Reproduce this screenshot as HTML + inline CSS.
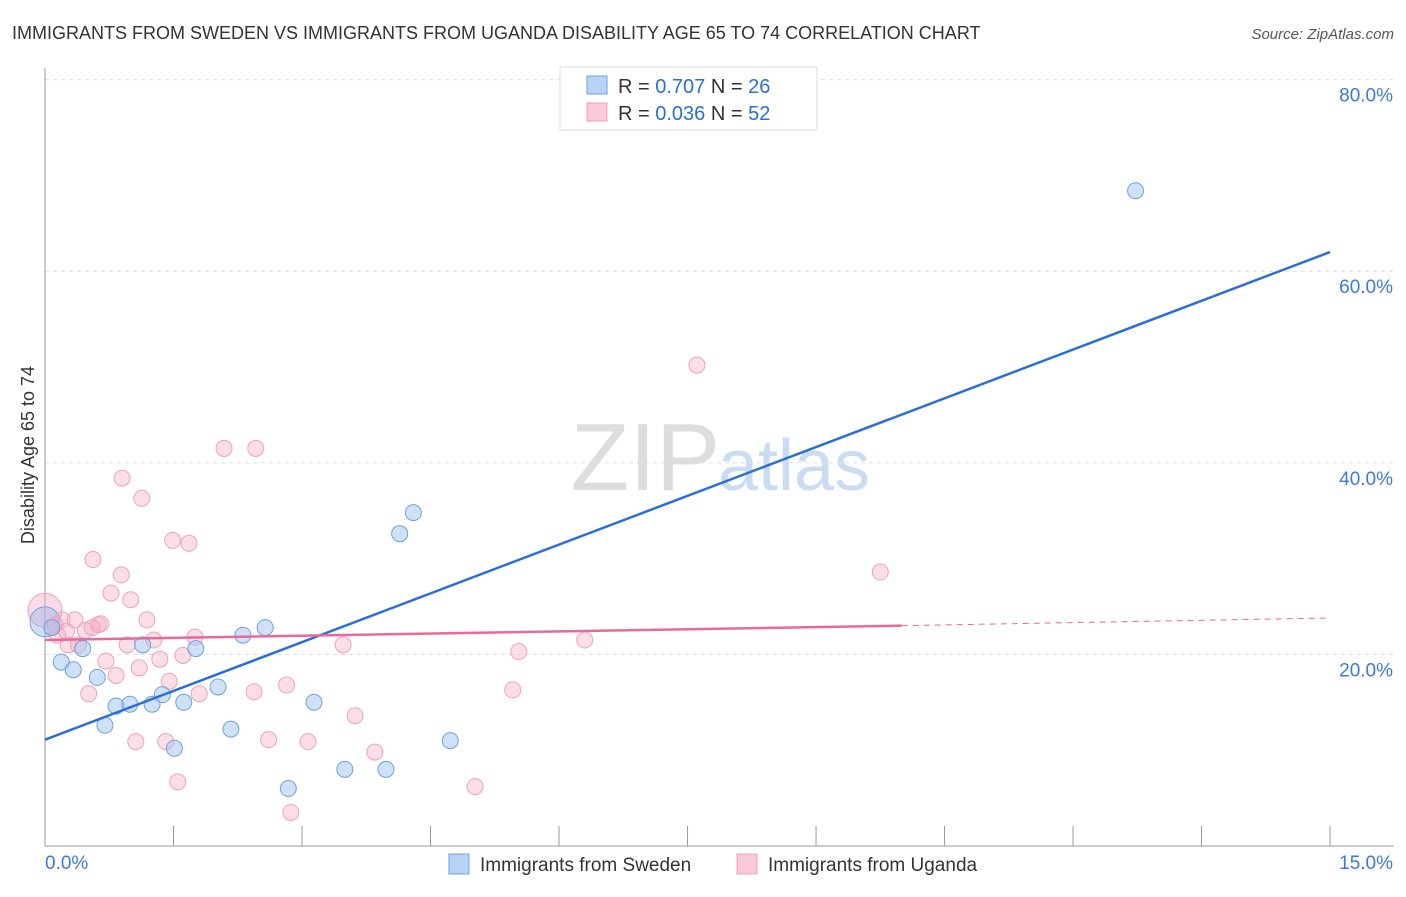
<!DOCTYPE html>
<html><head><meta charset="utf-8"><style>
body{margin:0;background:#fff;font-family:"Liberation Sans",sans-serif;}
svg text{font-family:"Liberation Sans",sans-serif;}
</style></head><body>
<svg id="chart" width="1406" height="892">
<text x="12" y="39" font-size="18" fill="#333">IMMIGRANTS FROM SWEDEN VS IMMIGRANTS FROM UGANDA DISABILITY AGE 65 TO 74 CORRELATION CHART</text>
<text x="1394" y="39" font-size="15" fill="#555" font-style="italic" text-anchor="end">Source: ZipAtlas.com</text>
<text x="720" y="490" font-size="96" fill="#ddd" text-anchor="end" font-family="Liberation Serif">ZIP</text>
<text x="718" y="490" font-size="72" fill="#c9dcf2">atlas</text>
<g id="grid"></g><g id="axes"></g><g id="pts"></g><g id="lines"></g>
<text transform="translate(34,455) rotate(-90)" font-size="18" fill="#333" text-anchor="middle">Disability Age 65 to 74</text>
<g>
<rect x="560" y="67" width="257" height="63" fill="#fff" stroke="#ddd"/>
<rect x="587" y="76" width="20" height="18" fill="#b8d3f5" stroke="#6fa0e0"/>
<rect x="587" y="103" width="20" height="18" fill="#fbc9da" stroke="#f0a0bc"/>
<text x="618" y="93" font-size="20" fill="#333">R = <tspan fill="#2a6fd6">0.707</tspan>   N = <tspan fill="#2a6fd6">26</tspan></text>
<text x="618" y="120" font-size="20" fill="#333">R = <tspan fill="#2a6fd6">0.036</tspan>   N = <tspan fill="#2a6fd6">52</tspan></text>
</g>
<g>
<rect x="449" y="854" width="20" height="20" fill="#b8d3f5" stroke="#6fa0e0"/>
<text x="480" y="871" font-size="19" fill="#333">Immigrants from Sweden</text>
<rect x="737" y="854" width="20" height="20" fill="#fbc9da" stroke="#f0a0bc"/>
<text x="768" y="871" font-size="19" fill="#333">Immigrants from Uganda</text>
</g>
</svg>
<script>
const blueX=[0.08,0.19,0.33,0.44,0.61,0.70,0.83,0.99,1.14,1.25,1.37,1.51,1.62,1.76,2.02,2.17,2.31,2.57,2.84,3.14,3.50,3.98,4.14,4.30,4.73,12.73];
const blueY=[22.8,19.2,18.4,20.6,17.6,12.6,14.6,14.8,21.0,14.8,15.8,10.2,15.0,20.6,16.6,12.2,22.0,22.8,6.0,15.0,8.0,8.0,32.6,34.8,11.0,68.4];
const pinkX=[0.08,0.12,0.20,0.27,0.35,0.39,0.47,0.51,0.56,0.62,0.65,0.71,0.77,0.83,0.89,0.90,0.96,1.00,1.06,1.10,1.13,1.19,1.27,1.34,1.41,1.45,1.49,1.55,1.61,1.68,1.75,1.80,2.09,2.44,2.46,2.61,2.82,2.87,3.07,3.48,3.62,3.85,5.02,5.46,5.53,6.30,7.61,9.75,0.15,0.25,0.55];
const pinkY=[22.8,23.1,23.6,21.0,23.6,21.0,22.5,15.9,29.9,23.1,23.2,19.3,26.4,17.8,28.3,38.4,21.0,25.7,10.9,18.6,36.3,23.6,21.5,19.5,10.9,17.2,31.9,6.7,19.9,31.6,21.8,15.9,41.5,16.1,41.5,11.1,16.8,3.5,10.9,21.0,13.6,9.8,6.2,16.3,20.3,21.5,50.2,28.6,22.0,22.4,22.8];
const yTicks=[20,40,60,80];
const yTickLabels=["20.0%","40.0%","60.0%","80.0%"];
const blueLine=[11.1,62.0];
const pinkLine=[21.5,23.0,23.8];
const pinkSolidEnd=10;
const NS="http://www.w3.org/2000/svg";
const X=v=>45+v*85.67, Y=v=>846-v*9.58;
function mk(t,a,p){const e=document.createElementNS(NS,t);for(const k in a)e.setAttribute(k,a[k]);p.appendChild(e);return e;}
const grid=document.getElementById('grid'),axes=document.getElementById('axes'),pts=document.getElementById('pts'),lines=document.getElementById('lines');
yTicks.forEach((t,i)=>{
 const l=mk('line',{x1:45,x2:1394,y1:Y(t),y2:Y(t),stroke:'#ddd','stroke-dasharray':'4,4'},grid);
 
 
 const tx=mk('text',{x:1393,y:Y(t)+22,'font-size':19,fill:'#3d7ad6','text-anchor':'end'},axes);
 tx.textContent=yTickLabels[i];
 
 
});
mk('line',{x1:45,x2:45,y1:68,y2:846,stroke:'#999'},axes);
const xa=mk('line',{x1:45,x2:1394,y1:846,y2:846,stroke:'#999'},axes);


for(let i=0;i<=10;i++){mk('line',{x1:X(i*1.5),x2:X(i*1.5),y1:826,y2:846,stroke:'#999'},axes);}
const x0=mk('text',{x:45,y:869,'font-size':19,fill:'#3d7ad6'},axes);x0.textContent='0.0%';


const x1=mk('text',{x:1393,y:869,'font-size':19,fill:'#3d7ad6','text-anchor':'end'},axes);x1.textContent='15.0%';


let big=mk('circle',{cx:X(0),cy:Y(24.6),r:17,fill:'rgba(246,172,198,0.45)',stroke:'#f0a0bc'},pts);


let bigb=mk('circle',{cx:X(0),cy:Y(23.4),r:15,fill:'rgba(150,185,235,0.45)',stroke:'#6fa0e0'},pts);


pinkX.forEach((v,i)=>{const c=mk('circle',{cx:X(v),cy:Y(pinkY[i]),r:8,fill:'rgba(246,172,198,0.4)',stroke:'#f0a0bc'},pts);
 
 });
blueX.forEach((v,i)=>{const c=mk('circle',{cx:X(v),cy:Y(blueY[i]),r:8,fill:'rgba(160,195,240,0.5)',stroke:'#6fa0e0'},pts);
 
 });
const bl=mk('line',{x1:X(0),y1:Y(blueLine[0]),x2:X(15),y2:Y(blueLine[1]),stroke:'#2a6fd6','stroke-width':2.5},lines);


const pl=mk('line',{x1:X(0),y1:Y(pinkLine[0]),x2:X(pinkSolidEnd),y2:Y(pinkLine[1]),stroke:'#e8699a','stroke-width':2.5},lines);


const pd=mk('line',{x1:X(pinkSolidEnd),y1:Y(pinkLine[1]),x2:X(15),y2:Y(pinkLine[2]),stroke:'#e8699a','stroke-width':1,'stroke-dasharray':'6,5'},lines);


</script>
</body></html>
